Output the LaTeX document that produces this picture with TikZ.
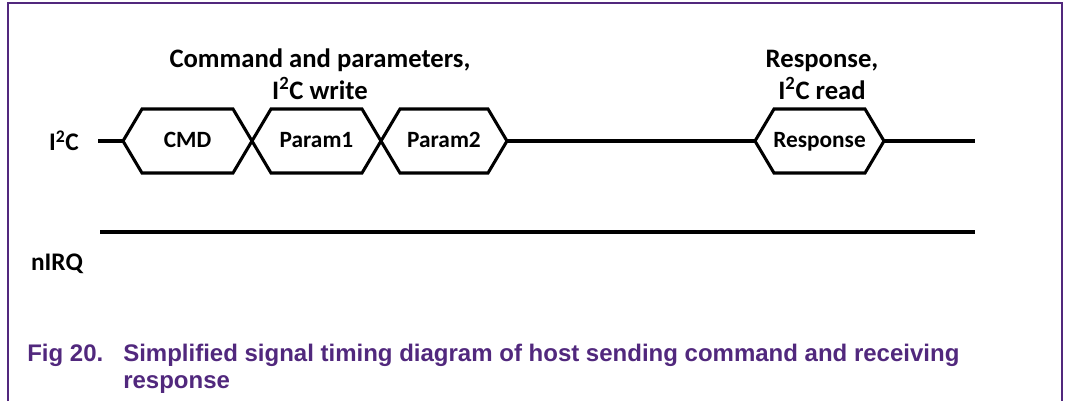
\documentclass[tikz,border=0pt]{standalone}
\usepackage{fontspec}
\setmainfont{Carlito}
\newfontfamily\captionfont{Liberation Sans}
\usetikzlibrary{calc, positioning}
\definecolor{ink}{HTML}{000000}
\definecolor{nxppurple}{HTML}{51287D}

\begin{document}
\begin{tikzpicture}[
    x=0.75pt, y=-0.75pt,
    signal/.style={
      draw=ink,
      line width=2.6pt,
    },
    bus/.style={
      draw=ink,
      line width=2.3pt,
      line join=miter,
    },
    datum/.style={
      font=\bfseries\fontsize{17.5}{20}\selectfont,
      inner sep=0pt,
      text height=12pt,
      text depth=3pt,
    },
    heading/.style={
      font=\bfseries\fontsize{20}{24}\selectfont,
      align=center,
      inner sep=0pt,
    },
    lane/.style={
      font=\bfseries\fontsize{19}{22}\selectfont,
      inner sep=0pt,
    },
    caption/.style={
      font=\captionfont\bfseries\fontsize{18}{20.25}\selectfont,
      text=nxppurple,
      inner sep=0pt,
    },
  ]

  \useasboundingbox (0,0) rectangle (1066,401);

  % Frame
  \draw[nxppurple, line width=1.5pt] (8,401) -- (8,3) -- (1062,3) -- (1062,401);

  % Lane labels
  \node[lane] (i2c) at (64,141) {I\textsuperscript{2}C};
  \node[lane] (nirq) at (57,264) {nIRQ};

  % Bus transitions
  \coordinate (w0) at (98,141);
  \coordinate (t0) at (123,141);
  \coordinate (t1) at (252,141);
  \coordinate (t2) at (381,141);
  \coordinate (t3) at (507,141);
  \coordinate (t4) at (755,141);
  \coordinate (t5) at (884,141);
  \coordinate (e0) at (975,141);

  % Idle bus
  \draw[signal] (w0) -- (t0);
  \draw[signal] (t3) -- (t4);
  \draw[signal] (t5) -- (e0);

  % Data words
  \foreach \a/\b in {t0/t1, t1/t2, t2/t3, t4/t5} {
    \draw[bus] (\a) -- ($(\a)+(19,-32)$) -- ($(\b)+(-19,-32)$) -- (\b)
      -- ($(\b)+(-19,32)$) -- ($(\a)+(19,32)$) -- cycle;
  }
  \node[datum] (cmd) at ($(t0)!0.5!(t1)$) {CMD};
  \node[datum] (p1) at ($(t1)!0.5!(t2)$) {Param1};
  \node[datum] (p2) at ($(t2)!0.5!(t3)$) {Param2};
  \node[datum] (resp) at ($(t4)!0.5!(t5)$) {Response};

  % Phase headings
  \node[heading, anchor=south] (write) at (320,100) {Command and parameters,\\I\textsuperscript{2}C write};
  \node[heading, anchor=south] (read) at (822,100) {Response,\\I\textsuperscript{2}C read};

  % nIRQ line
  \coordinate (n0) at (100,232);
  \coordinate (n1) at (975,232);
  \draw[signal] (n0) -- (n1);

  % Caption
  \node[caption, anchor=base west] (fignum) at (27,361) {Fig 20.};
  \node[caption, anchor=base west, align=left] (figtext) at (123,388)
    {Simplified signal timing diagram of host sending command and receiving\\response};

\end{tikzpicture}
\end{document}
